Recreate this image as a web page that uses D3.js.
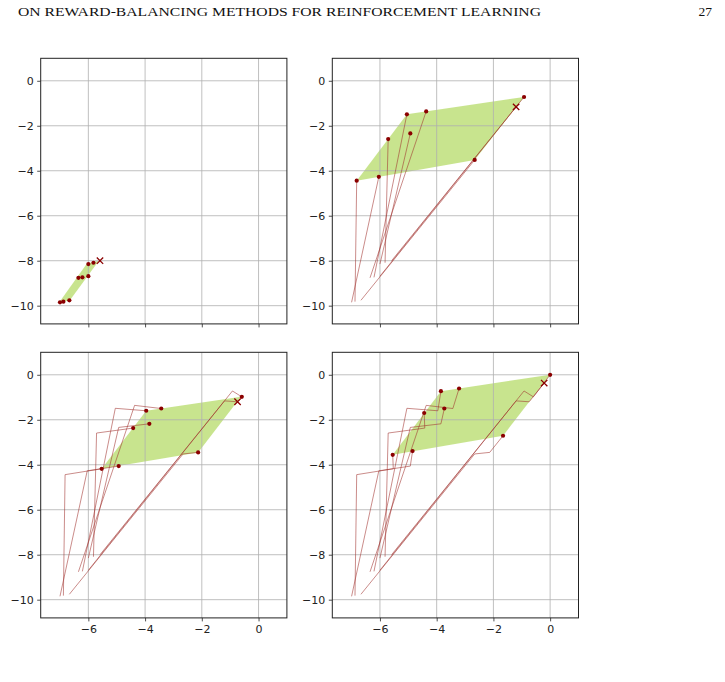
<!DOCTYPE html>
<html>
<head>
<meta charset="utf-8">
<script src="https://cdn.jsdelivr.net/npm/d3@7"></script>
<style>
  body { margin: 0; background: #fff; }
  svg { display: block; }
</style>
</head>
<body>
<svg id="fig" width="725" height="682"></svg>
<script>
// ticks
const xTicks = [-6, -4, -2, 0]
const yTicks = [0, -2, -4, -6, -8, -10]

// eight trajectories, one point per iteration (iteration 0..3)
const iter0 = [[-7.0, -9.85], [-6.88, -9.82], [-6.67, -9.76], [-6.35, -8.76], [-6.21, -8.74], [-6.0, -8.69], [-6.0, -8.15], [-5.82, -8.09]]
const iter1 = [[-6.04, -4.27], [-6.82, -4.44], [-2.66, -3.52], [-4.37, -1.36], [-5.05, -1.49], [-0.92, -0.72], [-4.93, -2.34], [-5.71, -2.59]]
const iter2 = [[-4.93, -4.06], [-5.53, -4.18], [-2.13, -3.45], [-3.43, -1.50], [-3.96, -1.60], [-0.59, -0.98], [-3.85, -2.18], [-4.42, -2.37]]
const iter3 = [[-4.85, -3.39], [-5.55, -3.56], [-1.66, -2.71], [-3.21, -0.61], [-3.85, -0.73], [0.0, 0.0], [-3.73, -1.50], [-4.44, -1.70]]

// the cross marker path
const crossPath = [[-5.59, -8.0], [-1.2, -1.16], [-0.74, -1.2], [-0.21, -0.37]]

// shaded region per panel
const region0 = [[-7.03, -9.86], [-6.65, -9.76], [-5.63, -8.0], [-6.05, -8.12]]
const region1 = [[-6.82, -4.44], [-5.05, -1.49], [-0.92, -0.72], [-2.66, -3.52]]
const region2 = [[-5.53, -4.18], [-3.96, -1.60], [-0.62, -0.98], [-2.13, -3.45]]
const region3 = [[-5.55, -3.56], [-3.85, -0.73], [0.0, 0.0], [-1.66, -2.71]]

const iters = [iter0, iter1, iter2, iter3]
const regions = [region0, region1, region2, region3]

const svg = d3.select('#fig')

// header line
svg.append('text')
	.attr('x', 18).attr('y', 16)
	.attr('font-family', 'Liberation Serif, DejaVu Serif, serif')
	.attr('font-size', 13.5)
	.attr('textLength', 523)
	.attr('lengthAdjust', 'spacingAndGlyphs')
	.attr('fill', '#111')
	.text('ON REWARD-BALANCING METHODS FOR REINFORCEMENT LEARNING')

svg.append('text')
	.attr('x', 712).attr('y', 16)
	.attr('text-anchor', 'end')
	.attr('font-family', 'Liberation Serif, DejaVu Serif, serif')
	.attr('font-size', 13.5)
	.attr('fill', '#111')
	.text('27')

const pw = 246.2, ph = 265.6
const boxes = [
	{left: 40.7, top: 58.3, xlabels: false},
	{left: 332.3, top: 58.3, xlabels: false},
	{left: 40.7, top: 352.3, xlabels: true},
	{left: 332.3, top: 352.3, xlabels: true}
]

const xScale = d3.scaleLinear().domain([-7.68, 1.0]).range([0, pw])
const yScale = d3.scaleLinear().domain([-10.81, 1.0]).range([ph, 0])
const fmt = d3.format('d')
const line = d3.line().x(d => xScale(d[0])).y(d => yScale(d[1]))

boxes.forEach((b, k) => {
	const g = svg.append('g').attr('transform', `translate(${b.left}, ${b.top})`)

	g.append('clipPath').attr('id', 'clip' + k)
		.append('rect').attr('width', pw).attr('height', ph)

	const plot = g.append('g').attr('clip-path', `url(#clip${k})`)

	// shaded region
	plot.append('path')
		.attr('d', line(regions[k]) + 'Z')
		.attr('fill', 'yellowgreen')
		.attr('fill-opacity', 0.55)

	// grid
	plot.selectAll('.vgrid').data(xTicks).enter().append('line')
		.attr('x1', d => xScale(d)).attr('x2', d => xScale(d))
		.attr('y1', 0).attr('y2', ph)
		.attr('stroke', '#b0b0b0').attr('stroke-width', 0.8)
	plot.selectAll('.hgrid').data(yTicks).enter().append('line')
		.attr('y1', d => yScale(d)).attr('y2', d => yScale(d))
		.attr('x1', 0).attr('x2', pw)
		.attr('stroke', '#b0b0b0').attr('stroke-width', 0.8)

	// trajectories
	if (k > 0) {
		for (let t = 0; t < iter0.length; t++) {
			const pts = iters.slice(0, k + 1).map(it => it[t])
			plot.append('path')
				.attr('d', line(pts))
				.attr('fill', 'none')
				.attr('stroke', '#a0302c')
				.attr('stroke-opacity', 0.8)
				.attr('stroke-width', 0.7)
		}
		plot.append('path')
			.attr('d', line(crossPath.slice(0, k + 1)))
			.attr('fill', 'none')
			.attr('stroke', '#a0302c')
			.attr('stroke-opacity', 0.8)
			.attr('stroke-width', 0.7)
	}

	// current points
	plot.selectAll('.dot').data(iters[k]).enter().append('circle')
		.attr('cx', d => xScale(d[0])).attr('cy', d => yScale(d[1]))
		.attr('r', 2.1)
		.attr('fill', '#8b0000')

	const c = crossPath[k]
	const cx = xScale(c[0]), cy = yScale(c[1]), s = 3.2
	plot.append('path')
		.attr('d', `M${cx - s},${cy - s}L${cx + s},${cy + s}M${cx - s},${cy + s}L${cx + s},${cy - s}`)
		.attr('stroke', '#8b0000').attr('stroke-width', 1.3).attr('fill', 'none')

	// axes
	const xAxis = d3.axisBottom(xScale).tickValues(xTicks).tickSize(3.5).tickPadding(3.5)
		.tickFormat(b.xlabels ? fmt : '')
	const yAxis = d3.axisLeft(yScale).tickValues(yTicks).tickSize(3.5).tickPadding(3.5).tickFormat(fmt)

	const xa = g.append('g').attr('transform', `translate(0, ${ph})`).call(xAxis)
	const ya = g.append('g').call(yAxis)
	;[xa, ya].forEach(a => {
		a.select('.domain').remove()
		a.selectAll('line').attr('stroke', '#222').attr('stroke-width', 0.8)
		a.selectAll('text').attr('font-family', 'DejaVu Sans, sans-serif').attr('font-size', 11).attr('fill', '#222')
	})

	// frame
	g.append('rect')
		.attr('width', pw).attr('height', ph)
		.attr('fill', 'none')
		.attr('stroke', '#222').attr('stroke-width', 1)
})
</script>
</body>
</html>
